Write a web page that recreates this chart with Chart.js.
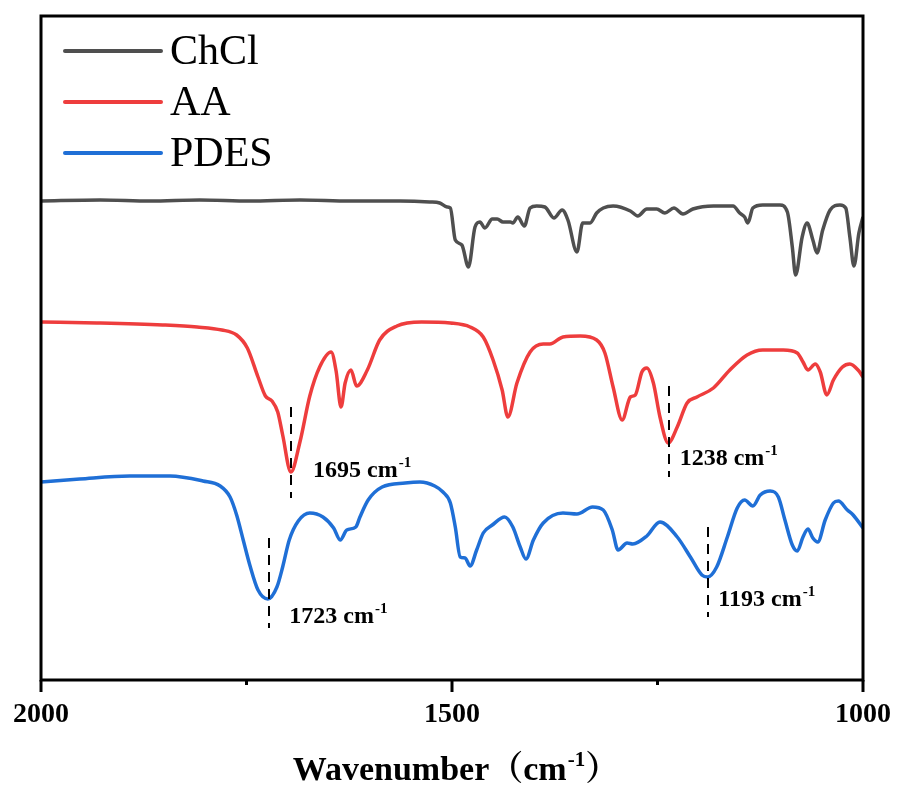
<!DOCTYPE html>
<html>
<head>
<meta charset="utf-8">
<script src="https://cdn.jsdelivr.net/npm/chart.js@4.4.0/dist/chart.umd.min.js"></script>
<style>
  html, body { margin: 0; padding: 0; background: #fff; }
</style>
</head>
<body>
<canvas id="chart" width="897" height="788"></canvas>
<script>
// wavenumber (cm-1) and transmittance (a.u., offset per curve)
const chclWn = [2000,1928,1867,1807,1746,1685,1624,1563,1527,1515,1506,1502,1496,1488,1480,1472,1466,1460,1451,1445,1438,1429,1426,1420,1412,1405,1397,1387,1376,1366,1359,1348,1341,1332,1324,1316,1304,1283,1274,1263,1251,1241,1230,1219,1207,1182,1158,1150,1144,1140,1134,1122,1101,1092,1086,1082,1074,1068,1061,1056,1049,1040,1028,1021,1016,1011,1005,1000];
const chclT = [479,480,479,480,479,480,479,479,478,477,473,472,440,435,413,453,458,452,461,461,458,458,457,463,454,472,474,473,462,470,460,428,457,457,467,472,474,469,464,471,471,467,472,466,471,474,474,467,463,457,472,475,475,468,433,405,443,457,440,427,450,470,475,472,443,414,447,463];

const aaWn = [2000,1932,1852,1810,1780,1762,1749,1736,1727,1719,1712,1706,1696,1685,1673,1661,1647,1641,1635,1630,1623,1616,1603,1588,1567,1537,1502,1478,1462,1450,1439,1432,1421,1405,1389,1381,1365,1344,1324,1314,1304,1293,1283,1277,1269,1263,1255,1247,1237,1226,1214,1202,1182,1162,1141,1122,1097,1080,1073,1067,1058,1052,1044,1036,1025,1016,1006,1000];
const aaT = [358,357,355,353,350,345,332,303,284,279,268,245,208,238,284,313,328,309,273,297,310,294,310,340,354,358,357,353,343,320,290,263,297,328,336,336,343,344,340,327,293,260,283,285,308,312,297,263,237,253,277,283,292,310,325,330,330,327,318,310,316,308,285,300,313,316,310,303];

const pdesWn = [2000,1953,1892,1843,1803,1782,1770,1762,1754,1746,1736,1724,1713,1706,1698,1687,1673,1657,1644,1636,1628,1617,1612,1602,1585,1557,1539,1521,1511,1502,1496,1490,1484,1478,1470,1462,1451,1436,1426,1417,1410,1401,1389,1365,1348,1329,1316,1305,1298,1287,1280,1263,1247,1226,1210,1196,1189,1178,1165,1153,1144,1134,1125,1113,1103,1095,1086,1080,1073,1067,1061,1055,1046,1036,1030,1019,1012,1000];
const pdesT = [198,201,204,204,199,194,183,165,140,115,90,81,93,113,140,159,167,163,152,140,150,153,163,180,193,197,198,194,188,177,153,123,122,114,130,147,155,163,153,133,121,140,157,167,166,173,170,150,130,137,136,144,158,143,123,105,103,113,143,172,180,174,185,189,183,160,135,129,143,151,142,138,160,177,179,170,165,152];

const seriesNames = ['ChCl', 'AA', 'PDES'];
const xTicks = [2000, 1750, 1500, 1250, 1000];
const xLabels = ['2000', '', '1500', '', '1000'];

// peak marks: label, line position, line top/bottom, label position
const peakText = ['1695', '1238', '1723', '1193'];
const peakWn = [1696, 1236, 1723, 1189];
const peakTop = [273, 294, 142, 153];
const peakBottom = [182, 203, 52, 63];
const labelWn = [1669, 1223, 1698, 1176];
const labelT = [203, 215, 57, 74];

const serif = '"Liberation Serif", "Times New Roman", "Noto Serif CJK SC", "Noto Sans CJK SC", serif';
const colors = ['#4f4f4f', '#ee3d3d', '#1f6fd6'];

function toPoints(xs, ys) {
  return xs.map((v, i) => ({ x: v, y: ys[i] }));
}

function supText(ctx, base, sup, x, y, size, supSize, rise) {
  ctx.font = 'bold ' + size + 'px ' + serif;
  ctx.fillText(base, x, y);
  const w = ctx.measureText(base).width;
  ctx.font = 'bold ' + supSize + 'px ' + serif;
  ctx.fillText(sup, x + w + 1, y - rise);
  return w + 1 + ctx.measureText(sup).width;
}

const extras = {
  id: 'extras',
  afterDatasetsDraw(chart) {
    const ctx = chart.ctx;
    const a = chart.chartArea;
    const x = chart.scales.x;
    const y = chart.scales.y;
    ctx.save();
    ctx.fillStyle = '#000';
    ctx.strokeStyle = '#000';

    // dashed peak markers
    ctx.lineWidth = 2;
    ctx.setLineDash([10, 7]);
    peakWn.forEach((wn, i) => {
      const px = Math.round(x.getPixelForValue(wn));
      ctx.beginPath();
      ctx.moveTo(px, y.getPixelForValue(peakTop[i]));
      ctx.lineTo(px, y.getPixelForValue(peakBottom[i]));
      ctx.stroke();
    });
    ctx.setLineDash([]);
    ctx.textBaseline = 'alphabetic';
    ctx.textAlign = 'left';
    peakText.forEach((t, i) => {
      supText(ctx, t + ' cm', '-1', x.getPixelForValue(labelWn[i]), y.getPixelForValue(labelT[i]), 24, 15, 10);
    });

    // frame
    ctx.lineWidth = 3;
    ctx.strokeRect(a.left, a.top, a.right - a.left, a.bottom - a.top);

    // tick marks
    x.ticks.forEach(t => {
      const px = x.getPixelForValue(t.value);
      const len = t.value % 500 === 0 ? 12 : 5;
      ctx.beginPath();
      ctx.moveTo(px, a.bottom);
      ctx.lineTo(px, a.bottom + len);
      ctx.stroke();
    });

    // legend
    chart.data.datasets.forEach((ds, i) => {
      const ly = a.top + 35 + i * 51;
      ctx.strokeStyle = ds.borderColor;
      ctx.lineWidth = 4;
      ctx.lineCap = 'round';
      ctx.beginPath();
      ctx.moveTo(a.left + 24, ly);
      ctx.lineTo(a.left + 120, ly);
      ctx.stroke();
      ctx.font = '42px ' + serif;
      ctx.fillText(ds.label, a.left + 129, ly + 13);
    });

    // axis title
    const size = 34;
    ctx.font = 'bold ' + size + 'px ' + serif;
    const w0 = ctx.measureText('Wavenumber').width;
    const w1 = ctx.measureText('（cm').width;
    ctx.font = 'bold 21px ' + serif;
    const w2 = ctx.measureText('-1').width;
    ctx.font = 'bold ' + size + 'px ' + serif;
    const w3 = ctx.measureText('）').width;
    let tx = (a.left + a.right) / 2 - (w0 + w1 + 1 + w2 + w3) / 2 + 4;
    const ty = 780;
    ctx.fillText('Wavenumber', tx, ty);
    tx += w0;
    tx += supText(ctx, '（cm', '-1', tx, ty, size, 21, 14);
    ctx.font = 'bold ' + size + 'px ' + serif;
    ctx.fillText('）', tx, ty);
    ctx.restore();
  }
};

new Chart(document.getElementById('chart'), {
  type: 'line',
  data: {
    datasets: [
      { label: seriesNames[0], data: toPoints(chclWn, chclT), borderColor: colors[0] },
      { label: seriesNames[1], data: toPoints(aaWn, aaT), borderColor: colors[1] },
      { label: seriesNames[2], data: toPoints(pdesWn, pdesT), borderColor: colors[2] }
    ]
  },
  options: {
    responsive: false,
    animation: false,
    layout: { padding: { left: 41, right: 34, top: 16, bottom: 0 } },
    elements: {
      point: { radius: 0 },
      line: { borderWidth: 3.5, cubicInterpolationMode: 'monotone', fill: false }
    },
    plugins: { legend: { display: false }, tooltip: { enabled: false } },
    scales: {
      x: {
        type: 'linear',
        reverse: true,
        min: 1000,
        max: 2000,
        afterBuildTicks: s => { s.ticks = xTicks.map(v => ({ value: v })); },
        afterFit: s => { s.height = 108; },
        grid: { display: false, drawTicks: true, tickLength: 12 },
        border: { display: false },
        ticks: {
          padding: 6,
          color: '#000',
          font: { family: serif, size: 28, weight: 'bold' },
          callback: v => xLabels[xTicks.indexOf(v)]
        }
      },
      y: { display: false, min: 0, max: 664 }
    }
  },
  plugins: [extras]
});
</script>
</body>
</html>
